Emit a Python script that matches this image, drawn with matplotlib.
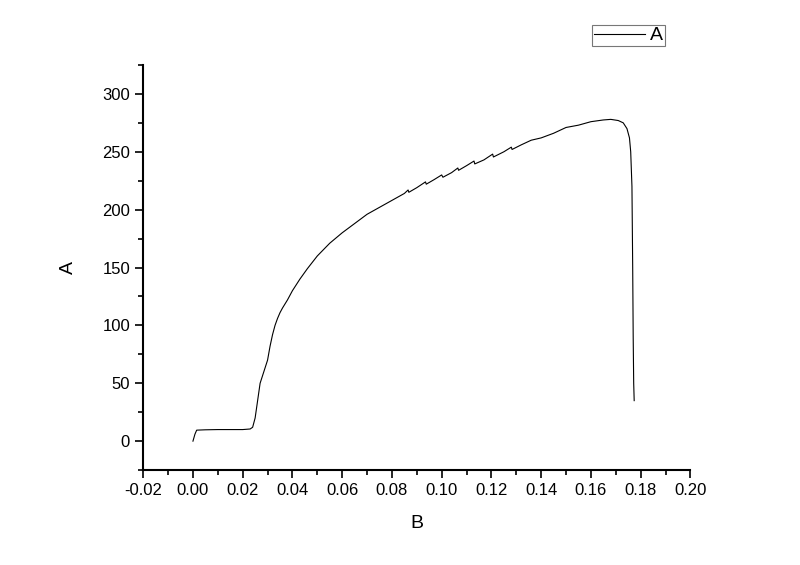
import numpy as np
import matplotlib.pyplot as plt
from matplotlib.ticker import MultipleLocator

plt.rcParams['font.family'] = ['Liberation Sans', 'DejaVu Sans']

# data
B = [0.0, 0.0008, 0.0015, 0.005, 0.01, 0.015, 0.02, 0.023, 0.024, 0.025,
     0.026, 0.027, 0.0285, 0.030, 0.031, 0.032, 0.033, 0.034, 0.035, 0.036,
     0.038, 0.040, 0.043, 0.046, 0.050, 0.055, 0.060, 0.065, 0.070, 0.075,
     0.080, 0.085, 0.0865, 0.0868, 0.090, 0.0935, 0.0938, 0.097, 0.100,
     0.1005, 0.104, 0.1065, 0.1068, 0.110, 0.113, 0.1133, 0.117, 0.1205,
     0.1208, 0.125, 0.128, 0.1283, 0.132, 0.136, 0.140, 0.145,
     0.150, 0.155, 0.160, 0.165, 0.168, 0.171, 0.173, 0.1745, 0.1755, 0.176,
     0.1765, 0.1768, 0.177, 0.1772, 0.1774]
A = [0, 6, 9.5, 9.8, 10, 10, 10, 10.5, 12, 20,
     35, 50, 60, 70, 82, 92, 100, 106, 111, 115,
     122, 130, 140, 149, 160, 171, 180, 188, 196, 202,
     208, 214, 217, 215, 219, 224, 222, 226, 230,
     228, 232, 236, 234, 238, 242, 239.5, 243, 248,
     245.5, 250, 254, 252, 256, 260, 262, 266,
     271, 273, 276, 277.5, 278, 277, 275, 270, 262, 250,
     220, 150, 90, 50, 35]

fig = plt.figure(figsize=(8, 5.65), dpi=100)
ax = fig.add_axes([0.179, 0.168, 0.684, 0.717])

ax.plot(B, A, color='black', linewidth=0.8, label='A')

ax.set_xlim(-0.02, 0.20)
ax.set_ylim(-25, 325)
ax.xaxis.set_minor_locator(MultipleLocator(0.01))
ax.yaxis.set_major_locator(MultipleLocator(50))
ax.yaxis.set_minor_locator(MultipleLocator(25))
xt = np.arange(-0.02, 0.2001, 0.02)
ax.set_xticks(xt)
ax.set_xticklabels(['%.2f' % v for v in xt])

ax.spines['top'].set_visible(False)
ax.spines['right'].set_visible(False)
ax.spines['left'].set_linewidth(1.5)
ax.spines['bottom'].set_linewidth(1.5)
ax.tick_params(which='major', direction='out', length=6, width=1.2, labelsize=12)
ax.tick_params(which='minor', direction='out', length=3.5, width=1.2)

ax.set_xlabel('B', fontsize=14, labelpad=12)
ax.set_ylabel('A', fontsize=14, labelpad=18)

leg = fig.legend(loc='upper left', bbox_to_anchor=(0.740, 0.956),
                 fontsize=14, frameon=True, fancybox=False,
                 handlelength=2.6, handletextpad=0.3, borderpad=0.1,
                 borderaxespad=0)
leg.get_frame().set_edgecolor('#555555')
leg.get_frame().set_linewidth(0.8)

plt.savefig('out.png', dpi=100)
